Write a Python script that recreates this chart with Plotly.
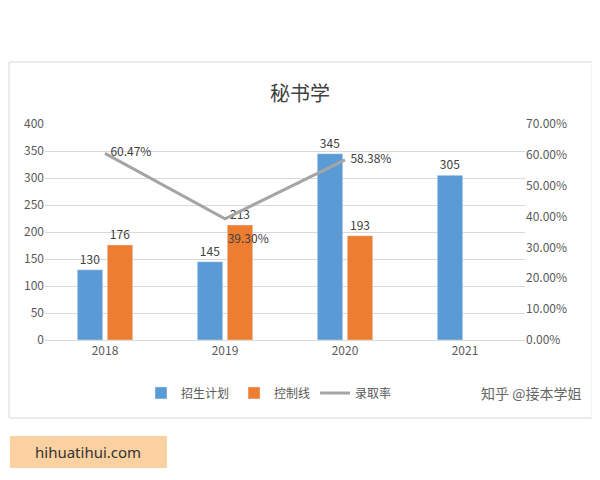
import plotly.graph_objects as go

years = ["2018", "2019", "2020", "2021"]
plan = [130, 145, 345, 305]
control = [176, 213, 193, None]
rate = [60.47, 39.30, 58.38, None]
rate_labels = ["  60.47%", "<br> 39.30%", "  58.38%", ""]

fig = go.Figure()
fig.add_trace(go.Bar(x=years, y=plan, name="招生计划", marker_color="#5B9BD5",
                     text=plan, textposition="outside", textfont=dict(size=12, color="#404040")))
fig.add_trace(go.Bar(x=years, y=control, name="控制线", marker_color="#ED7D31",
                     text=control, textposition="outside", textfont=dict(size=12, color="#404040")))
fig.add_trace(go.Scatter(x=years, y=rate, name="录取率", yaxis="y2", mode="lines+text",
                         line=dict(color="#A5A5A5", width=3), text=rate_labels,
                         textposition=["middle right", "bottom right", "middle right", "middle right"],
                         textfont=dict(size=12, color="#404040"), cliponaxis=False))

fig.update_layout(
    width=584, height=464,
    margin=dict(l=37, r=67, t=116, b=132, autoexpand=False),
    paper_bgcolor="white", plot_bgcolor="white",
    font=dict(family="Noto Sans CJK SC", size=12, color="#595959"),
    title=dict(text="秘书学", x=0.5, y=0.83, xanchor="center", font=dict(size=20, color="#404040")),
    barmode="group", bargap=0.5, bargroupgap=0.15,
    xaxis=dict(showline=True, linecolor="#D9D9D9", ticks="", tickfont=dict(size=12)),
    yaxis=dict(range=[0, 400], dtick=50, gridcolor="#D9D9D9", zeroline=False),
    yaxis2=dict(range=[0, 70], dtick=10, overlaying="y", side="right", ticksuffix=".00%",
                showgrid=False, zeroline=False),
    legend=dict(orientation="h", x=0.2, y=-0.245, xanchor="left", yanchor="middle",
                font=dict(size=12)),
    showlegend=True,
)

fig.add_shape(type="rect", xref="paper", yref="paper", x0=-0.075, x1=1.14, y0=-0.361, y1=1.287,
              line=dict(color="#D9D9D9", width=1))
fig.add_shape(type="rect", xref="paper", yref="paper", x0=-0.073, x1=0.254, y0=-0.593, y1=-0.444,
              fillcolor="#FBC58A", line=dict(width=0), opacity=0.8)
fig.add_annotation(text="hihuatihui.com", xref="paper", yref="paper", x=0.09, y=-0.52,
                   xanchor="center", yanchor="middle",
                   showarrow=False, font=dict(size=15, color="#333333", family="Noto Sans"))
fig.add_annotation(text="知乎 @接本学姐", xref="paper", yref="paper", x=1.12, y=-0.245,
                   xanchor="right", yanchor="middle",
                   showarrow=False, font=dict(size=14, color="#666666"))

fig.write_html("out.html")
